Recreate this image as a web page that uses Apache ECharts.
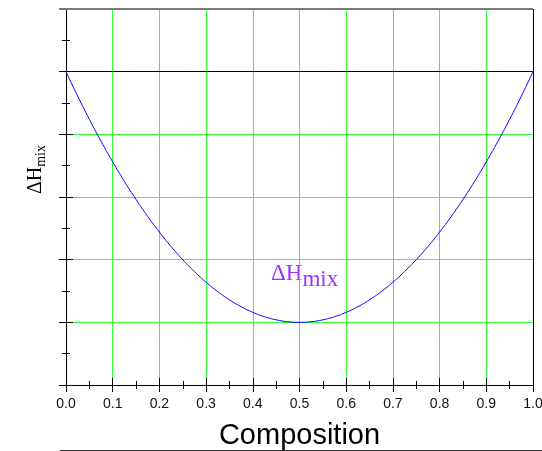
<!DOCTYPE html>
<html><head><meta charset="utf-8">
<script src="https://cdn.jsdelivr.net/npm/echarts@6/dist/echarts.min.js"></script>
<style>html,body{margin:0;padding:0;background:#fff}#c{width:542px;height:451px}</style>
</head><body><div id="c"></div>
<script>
const composition = [0,0.025,0.05,0.075,0.1,0.125,0.15,0.175,0.2,0.225,0.25,0.275,0.3,0.325,0.35,0.375,0.4,0.425,0.45,0.475,0.5,0.525,0.55,0.575,0.6,0.625,0.65,0.675,0.7,0.725,0.75,0.775,0.8,0.825,0.85,0.875,0.9,0.925,0.95,0.975,1.0];
const deltaHmix = [0,-0.39,-0.76,-1.11,-1.44,-1.75,-2.04,-2.31,-2.56,-2.79,-3.0,-3.19,-3.36,-3.51,-3.64,-3.75,-3.84,-3.91,-3.96,-3.99,-4.0,-3.99,-3.96,-3.91,-3.84,-3.75,-3.64,-3.51,-3.36,-3.19,-3.0,-2.79,-2.56,-2.31,-2.04,-1.75,-1.44,-1.11,-0.76,-0.39,0];
const xTickLabels = ['0.0','0.1','0.2','0.3','0.4','0.5','0.6','0.7','0.8','0.9','1.0'];
const xTitle = 'Composition';
const GREEN = '#33ff33';

const chart = echarts.init(document.getElementById('c'), null, {renderer:'canvas'});
const innerAxis = {
  type:'value',
  axisLine:{show:false,onZero:false},
  axisTick:{show:true,inside:true,length:7,lineStyle:{color:'#000'}},
  minorTick:{show:true,splitNumber:2,length:4,lineStyle:{color:'#000'}},
  axisLabel:{show:false},
  splitLine:{show:false},
  minorSplitLine:{show:false}
};
chart.setOption({
  animation:false,
  grid:{left:66,right:9,top:9,bottom:66,outerBoundsMode:'none',containLabel:false},
  xAxis:[{
    type:'value',min:0,max:1,interval:0.1,position:'bottom',
    name:xTitle,nameLocation:'middle',nameGap:36,
    nameTextStyle:{fontFamily:'Liberation Sans',fontSize:29,color:'#000'},
    axisLine:{show:true,onZero:false,lineStyle:{color:'#000',width:1}},
    axisTick:{show:true,inside:false,length:7,lineStyle:{color:'#000'}},
    minorTick:{show:true,splitNumber:2,length:4,lineStyle:{color:'#000'}},
    axisLabel:{margin:12,fontFamily:'Liberation Sans',fontSize:14,color:'#111',
      formatter:(v)=>xTickLabels[Math.round(v*10)]},
    splitLine:{show:true,lineStyle:{color:GREEN,width:1,type:'solid'}},
    minorSplitLine:{show:false}
  }, Object.assign({min:0,max:1,interval:0.1,position:'bottom'}, innerAxis)],
  yAxis:[{
    type:'value',min:-5,max:1,interval:1,position:'left',
    axisLine:{show:true,onZero:false,lineStyle:{color:'#000',width:1}},
    axisTick:{show:true,inside:false,length:7,lineStyle:{color:'#000'}},
    minorTick:{show:true,splitNumber:2,length:4,lineStyle:{color:'#000'}},
    axisLabel:{show:false},
    splitLine:{show:true,lineStyle:{color:GREEN,width:1,type:'solid'}},
    minorSplitLine:{show:false}
  }, Object.assign({min:-5,max:1,interval:1,position:'left'}, innerAxis)],
  series:[{
    type:'line',xAxisIndex:0,yAxisIndex:0,
    data:composition.map((x,i)=>[x,deltaHmix[i]]),
    smooth:true,showSymbol:false,
    lineStyle:{color:'#0000ff',width:1},
    markLine:{silent:true,symbol:['none','none'],label:{show:false},animation:false,
      data:[
        {yAxis:0,lineStyle:{color:'#000',width:1,type:'solid'}},
        {xAxis:1,lineStyle:{color:'#000',width:1,type:'solid'}}
      ]}
  }],
  graphic:[
    {type:'line',shape:{x1:59,y1:9,x2:533,y2:9},style:{stroke:'#7a7a7a',lineWidth:2},z:100},
    {type:'text',left:26,top:145,rotation:Math.PI/2,
      style:{text:'{a|ΔH}{b|mix}',fill:'#000',
        rich:{a:{fontFamily:'Liberation Serif',fontSize:20,fill:'#000',lineHeight:22},
              b:{fontFamily:'Liberation Serif',fontSize:14,fill:'#000',padding:[10,0,0,0]}}}},
    {type:'text',left:271,top:262,
      style:{text:'{a|ΔH}{b|mix}',
        rich:{a:{fontFamily:'Liberation Serif',fontSize:23,fill:'#9933ff',lineHeight:24},
              b:{fontFamily:'Liberation Serif',fontSize:23,fill:'#9933ff',padding:[12,0,0,0]}}}},
    {type:'line',shape:{x1:60,y1:450.5,x2:542,y2:450.5},style:{stroke:'#333',lineWidth:1}}
  ]
});
</script></body></html>
